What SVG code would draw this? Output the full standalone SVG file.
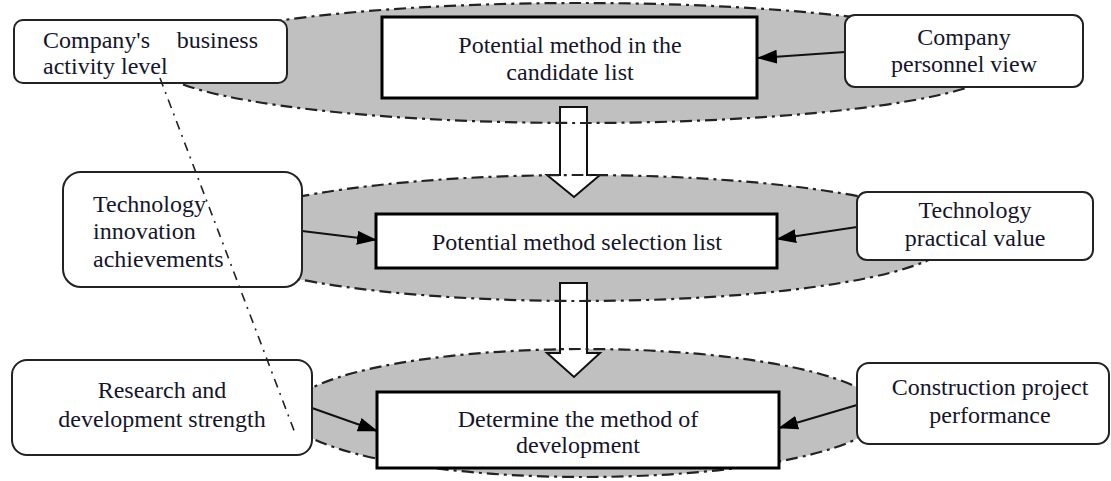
<svg xmlns="http://www.w3.org/2000/svg" width="1111" height="481" viewBox="0 0 1111 481">
<style>
  .fill { fill: #c0c0c0; stroke: none; }
  .ring { fill: none; stroke: #222; stroke-width: 2.2; stroke-dasharray: 12 5 3 5; }
  .rbox { fill: #fff; stroke: #222; stroke-width: 2; }
  .cbox { fill: #fff; stroke: #000; stroke-width: 3; }
  .t { font-family: "Liberation Serif", "DejaVu Serif", "Noto Serif", "Times New Roman", Times, serif; font-size: 24px; fill: #15152a; }
  .m { text-anchor: middle; }
  .conn { fill: none; stroke: #111; stroke-width: 2; }
  .block { fill: #fff; stroke: #111; stroke-width: 2; stroke-linejoin: miter; }
  .dd { fill: none; stroke: #222; stroke-width: 1.6; stroke-dasharray: 9 6 2 6; }
</style>
<defs>
  <marker id="ah" markerUnits="userSpaceOnUse" markerWidth="20" markerHeight="14" refX="19" refY="7" orient="auto">
    <path d="M0,0 L20,7 L0,14 Z" fill="#000"/>
  </marker>
</defs>
<rect width="1111" height="481" fill="#fff"/>

<g id="layers">
  <ellipse class="fill" cx="580" cy="63" rx="425" ry="60"/>
  <ellipse class="fill" cx="580" cy="238" rx="372" ry="63"/>
  <ellipse class="fill" cx="585" cy="413" rx="297" ry="64"/>
</g>

<g id="flow-arrows">
  <polygon class="block" points="560,107 587,107 587,175 600,175 574,197 547,175 560,175"/>
  <polygon class="block" points="560,283 587,283 587,353 600,353 574,377 547,353 560,353"/>
</g>

<g id="layer-outlines">
  <ellipse class="ring" cx="580" cy="63" rx="425" ry="60"/>
  <ellipse class="ring" cx="580" cy="238" rx="372" ry="63"/>
  <ellipse class="ring" cx="585" cy="413" rx="297" ry="64"/>
</g>

<g id="connectors">
  <line class="conn" x1="845" y1="52" x2="758" y2="58" marker-end="url(#ah)"/>
  <line class="conn" x1="302" y1="231" x2="376" y2="240" marker-end="url(#ah)"/>
  <line class="conn" x1="857" y1="227" x2="777" y2="239" marker-end="url(#ah)"/>
  <line class="conn" x1="312" y1="408" x2="377" y2="431" marker-end="url(#ah)"/>
  <line class="conn" x1="857" y1="405" x2="779" y2="428" marker-end="url(#ah)"/>
</g>

<g id="business-activity">
  <rect class="rbox" x="14" y="20" width="273" height="63" rx="9"/>
  <text class="t" x="43" y="48">Company's</text>
  <text class="t" x="258" y="48" text-anchor="end">business</text>
  <text class="t" x="43" y="74">activity level</text>
</g>

<g id="candidate-list">
  <rect class="cbox" x="382" y="17" width="375" height="81"/>
  <text class="t m" x="570" y="53">Potential method in the</text>
  <text class="t m" x="570" y="80">candidate list</text>
</g>

<g id="personnel-view">
  <rect class="rbox" x="845" y="15" width="238" height="72" rx="10"/>
  <text class="t m" x="964" y="45">Company</text>
  <text class="t m" x="964" y="72">personnel view</text>
</g>

<g id="innovation">
  <rect class="rbox" x="63" y="172" width="239" height="115" rx="18"/>
  <text class="t" x="93" y="212">Technology</text>
  <text class="t" x="93" y="239">innovation</text>
  <text class="t" x="93" y="267">achievements</text>
</g>

<g id="selection-list">
  <rect class="cbox" x="376" y="214" width="401" height="54"/>
  <text class="t m" x="577" y="250">Potential method selection list</text>
</g>

<g id="practical-value">
  <rect class="rbox" x="857" y="192" width="236" height="68" rx="10"/>
  <text class="t m" x="975" y="218">Technology</text>
  <text class="t m" x="975" y="246">practical value</text>
</g>

<g id="rd-strength">
  <rect class="rbox" x="12" y="360" width="300" height="95" rx="15"/>
  <text class="t m" x="162" y="398">Research and</text>
  <text class="t m" x="162" y="427">development strength</text>
</g>

<g id="determine-method">
  <rect class="cbox" x="377" y="392" width="402" height="76"/>
  <text class="t m" x="578" y="427">Determine the method of</text>
  <text class="t m" x="578" y="453">development</text>
</g>

<g id="project-performance">
  <rect class="rbox" x="857" y="363" width="252" height="81" rx="12"/>
  <text class="t m" x="990" y="395">Construction project</text>
  <text class="t m" x="990" y="423">performance</text>
</g>

<g id="dash-dot-line">
  <line class="dd" x1="160" y1="78" x2="295" y2="433"/>
</g>
</svg>
